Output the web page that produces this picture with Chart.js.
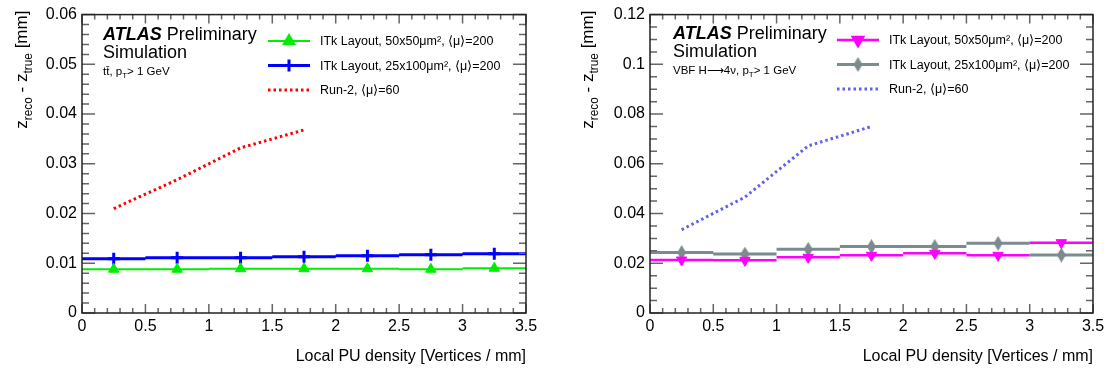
<!DOCTYPE html>
<html>
<head>
<meta charset="utf-8">
<script src="https://cdn.jsdelivr.net/npm/chart.js"></script>
<style>
  body { margin: 0; background: #fff; }
  #wrap { position: relative; width: 1110px; height: 370px; overflow: hidden; }
  canvas { position: absolute; top: 0; }
</style>
</head>
<body>
<div id="wrap">
  <canvas id="left" width="555" height="370" style="left:0"></canvas>
  <canvas id="right" width="555" height="370" style="left:555px"></canvas>
</div>
<script>
// bins of local PU density (vertices / mm)
const binCenters = [0.25, 0.75, 1.25, 1.75, 2.25, 2.75, 3.25]
const binHalfWidth = 0.25
const run2Centers = [0.25, 0.75, 1.25, 1.75]

// ttbar, pT > 1 GeV  (z_reco - z_true resolution in mm)
const ttbar50x50 = [0.0088, 0.0088, 0.0089, 0.0089, 0.0089, 0.0088, 0.0090]
const ttbar25x100 = [0.0109, 0.0111, 0.0111, 0.0113, 0.0115, 0.0117, 0.0119]
const ttbarRun2 = [0.0210, 0.0268, 0.0332, 0.0368]

// VBF H->4nu, pT > 1 GeV
const vbf50x50 = [0.0213, 0.0212, 0.0224, 0.0232, 0.0240, 0.0232, 0.0283]
const vbf25x100 = [0.0243, 0.0237, 0.0256, 0.0267, 0.0267, 0.0280, 0.0233]
const vbfRun2 = [0.0335, 0.0466, 0.0672, 0.0750]

const legend50 = 'ITk Layout, 50x50\u03BCm\u00B2, \u27E8\u03BC\u27E9=200'
const legend25 = 'ITk Layout, 25x100\u03BCm\u00B2, \u27E8\u03BC\u27E9=200'
const legendRun2 = 'Run-2, \u27E8\u03BC\u27E9=60'

const FONT = '"Liberation Sans", Arial, Helvetica, sans-serif'

// tall thin diamond marker
const diamond = document.createElement('canvas')
diamond.width = 9
diamond.height = 15
{
    const d = diamond.getContext('2d')
    d.fillStyle = '#7b8b8e'
    d.beginPath()
    d.moveTo(4.5, 0); d.lineTo(9, 7.5); d.lineTo(4.5, 15); d.lineTo(0, 7.5)
    d.closePath()
    d.fill()
}

// histogram-like points: horizontal segment per bin, marker at centre
const binned = (values) => {
    const pts = []
    values.forEach((v, i) => {
        const c = binCenters[i]
        pts.push({x: c - binHalfWidth, y: v})
        pts.push({x: c, y: v})
        pts.push({x: c + binHalfWidth, y: v})
        pts.push({x: c + binHalfWidth, y: null})
    })
    return pts
}
const curve = (values) => values.map((v, i) => ({x: run2Centers[i], y: v}))

const histSet = (label, values, color, width, style, radius, rotation) => ({
    label,
    data: binned(values),
    borderColor: color,
    backgroundColor: color,
    borderWidth: width,
    pointStyle: style,
    pointRotation: rotation || 0,
    pointRadius: ctx => ctx.index % 4 === 1 ? radius : 0,
    pointBorderWidth: style === 'cross' ? 3 : 1,
    spanGaps: false,
    tension: 0,
    order: 1
})
const dotSet = (label, values, color) => ({
    label,
    data: curve(values),
    borderColor: color,
    backgroundColor: color,
    borderWidth: 3,
    borderDash: [2.5, 3],
    pointRadius: 0,
    tension: 0,
    order: 2
})

// draw text with subscript pieces
const richWidth = (ctx, parts, size) => {
    let w = 0
    parts.forEach(p => {
        ctx.font = (p.bi ? 'italic bold ' : '') + (p.sub ? size * 0.7 : size) + 'px ' + FONT
        w += ctx.measureText(p.t).width + (p.gap || 0)
    })
    return w
}
const drawRich = (ctx, parts, x, y, size) => {
    parts.forEach(p => {
        const s = p.sub ? size * 0.7 : size
        ctx.font = (p.bi ? 'italic bold ' : '') + s + 'px ' + FONT
        ctx.fillText(p.t, x, y + (p.sub ? size * 0.3 : 0))
        x += ctx.measureText(p.t).width + (p.gap || 0)
    })
}

const drawMarker = (ctx, ds, x, y) => {
    if (!ds.pointStyle) return
    const r = typeof ds.pointRadius === 'function' ? ds.pointRadius({index: 1}) : ds.pointRadius
    Chart.helpers.drawPoint(ctx, {
        pointStyle: ds.pointStyle,
        rotation: ds.pointRotation,
        radius: r,
        borderWidth: ds.pointBorderWidth
    }, x, y)
}

const rootFrame = {
    id: 'rootFrame',
    afterDatasetsDraw(chart, args, o) {
        const ctx = chart.ctx
        const a = chart.chartArea
        const xs = chart.scales.x, ys = chart.scales.y
        ctx.save()
        ctx.strokeStyle = '#666'
        ctx.lineWidth = 1.5
        ctx.beginPath()
        // x ticks, bottom and top
        for (let v = xs.min; v <= xs.max + 1e-9; v += o.xMinor) {
            const px = xs.getPixelForValue(v)
            const major = Math.abs(v / o.xMajor - Math.round(v / o.xMajor)) < 1e-6
            const len = major ? 9 : 5
            ctx.moveTo(px, a.bottom); ctx.lineTo(px, a.bottom - len)
            ctx.moveTo(px, a.top); ctx.lineTo(px, a.top + len)
        }
        // y ticks, left and right
        for (let v = ys.min; v <= ys.max + 1e-9; v += o.yMinor) {
            const py = ys.getPixelForValue(v)
            const major = Math.abs(v / o.yMajor - Math.round(v / o.yMajor)) < 1e-6
            const len = major ? 13 : 7
            ctx.moveTo(a.left, py); ctx.lineTo(a.left + len, py)
            ctx.moveTo(a.right, py); ctx.lineTo(a.right - len, py)
        }
        ctx.stroke()
        ctx.strokeStyle = '#222'
        ctx.lineWidth = 1.5
        ctx.strokeRect(a.left, a.top, a.right - a.left, a.bottom - a.top)
        ctx.restore()
    },
    afterDraw(chart, args, o) {
        const ctx = chart.ctx
        const a = chart.chartArea
        ctx.save()
        ctx.fillStyle = '#000'
        ctx.textBaseline = 'alphabetic'
        ctx.textAlign = 'left'

        // ATLAS label
        drawRich(ctx, [{t: 'ATLAS', bi: true, gap: 5}, {t: 'Preliminary'}], o.labelX, o.labelY, 18)
        drawRich(ctx, [{t: 'Simulation'}], o.labelX, o.labelY + 18, 18)
        drawRich(ctx, o.process, o.labelX, o.labelY + 35, 11.5)

        // legend
        chart.data.datasets.forEach((ds, i) => {
            const y = o.legendY + i * 24.5
            ctx.save()
            ctx.strokeStyle = ds.borderColor
            ctx.fillStyle = ds.backgroundColor
            ctx.lineWidth = ds.borderWidth
            ctx.setLineDash(ds.borderDash || [])
            ctx.beginPath()
            ctx.moveTo(o.legendX, y); ctx.lineTo(o.legendX + 42, y)
            ctx.stroke()
            ctx.setLineDash([])
            ctx.strokeStyle = ds.borderColor
            drawMarker(ctx, ds, o.legendX + 21, y)
            ctx.restore()
            ctx.font = '12.5px ' + FONT
            ctx.textBaseline = 'middle'
            ctx.fillText(ds.label, o.legendX + 52, y + 1)
        })

        // axis titles
        ctx.textBaseline = 'alphabetic'
        ctx.font = '16px ' + FONT
        ctx.textAlign = 'right'
        ctx.fillText('Local PU density [Vertices / mm]', a.right, 361)
        ctx.textAlign = 'left'
        const yTitle = [{t: 'z'}, {t: 'reco', sub: true}, {t: ' - z'}, {t: 'true', sub: true}, {t: ' [mm]'}]
        const L = richWidth(ctx, yTitle, 17)
        ctx.translate(o.yTitleX, a.top - 4 + L)
        ctx.rotate(-Math.PI / 2)
        drawRich(ctx, yTitle, 0, 0, 17)
        ctx.restore()
    }
}

const makeChart = (id, datasets, yMax, yStep, yMinor, axisW, padRight, frameOpts) => {
    new Chart(document.getElementById(id), {
        type: 'line',
        data: { datasets },
        plugins: [rootFrame],
        options: {
            responsive: false,
            animation: false,
            layout: { padding: { top: 13, right: padRight, left: 0, bottom: 0 } },
            plugins: {
                legend: { display: false },
                tooltip: { enabled: false },
                rootFrame: Object.assign({ xMajor: 0.5, xMinor: 0.1, yMajor: yStep, yMinor }, frameOpts)
            },
            scales: {
                x: {
                    type: 'linear', min: 0, max: 3.5,
                    grid: { display: false, drawTicks: false },
                    border: { display: false },
                    ticks: {
                        stepSize: 0.5, autoSkip: false, maxRotation: 0, padding: 4,
                        color: '#000', font: { family: FONT, size: 16 },
                        callback: v => String(parseFloat(v.toFixed(2)))
                    },
                    afterFit: s => { s.height = 57 }
                },
                y: {
                    min: 0, max: yMax,
                    grid: { display: false, drawTicks: false },
                    border: { display: false },
                    ticks: {
                        stepSize: yStep, autoSkip: false, padding: 5,
                        color: '#000', font: { family: FONT, size: 16 },
                        callback: v => String(parseFloat(v.toFixed(3)))
                    },
                    afterFit: s => { s.width = axisW }
                }
            }
        }
    })
}

makeChart('left', [
    histSet(legend50, ttbar50x50, '#00ee00', 2, 'triangle', 6),
    histSet(legend25, ttbar25x100, '#0000ff', 3, 'cross', 6),
    dotSet(legendRun2, ttbarRun2, '#ff0000')
], 0.06, 0.01, 0.002, 82, 29, {
    labelX: 103, labelY: 40, legendX: 268, legendY: 41, yTitleX: 27,
    process: [{t: 'tt\u0304, p'}, {t: 'T', sub: true}, {t: '> 1 GeV'}]
})

makeChart('right', [
    histSet(legend50, vbf50x50, '#ff00ff', 2.5, 'triangle', 6, 180),
    histSet(legend25, vbf25x100, '#7b8b8e', 3, diamond, 6),
    dotSet(legendRun2, vbfRun2, '#5f5ff0')
], 0.12, 0.02, 0.005, 95, 17, {
    labelX: 118, labelY: 39, legendX: 282, legendY: 40, yTitleX: 38,
    process: [{t: 'VBF H\u27F64\u03BD, p'}, {t: 'T', sub: true}, {t: '> 1 GeV'}]
})
</script>
</body>
</html>
